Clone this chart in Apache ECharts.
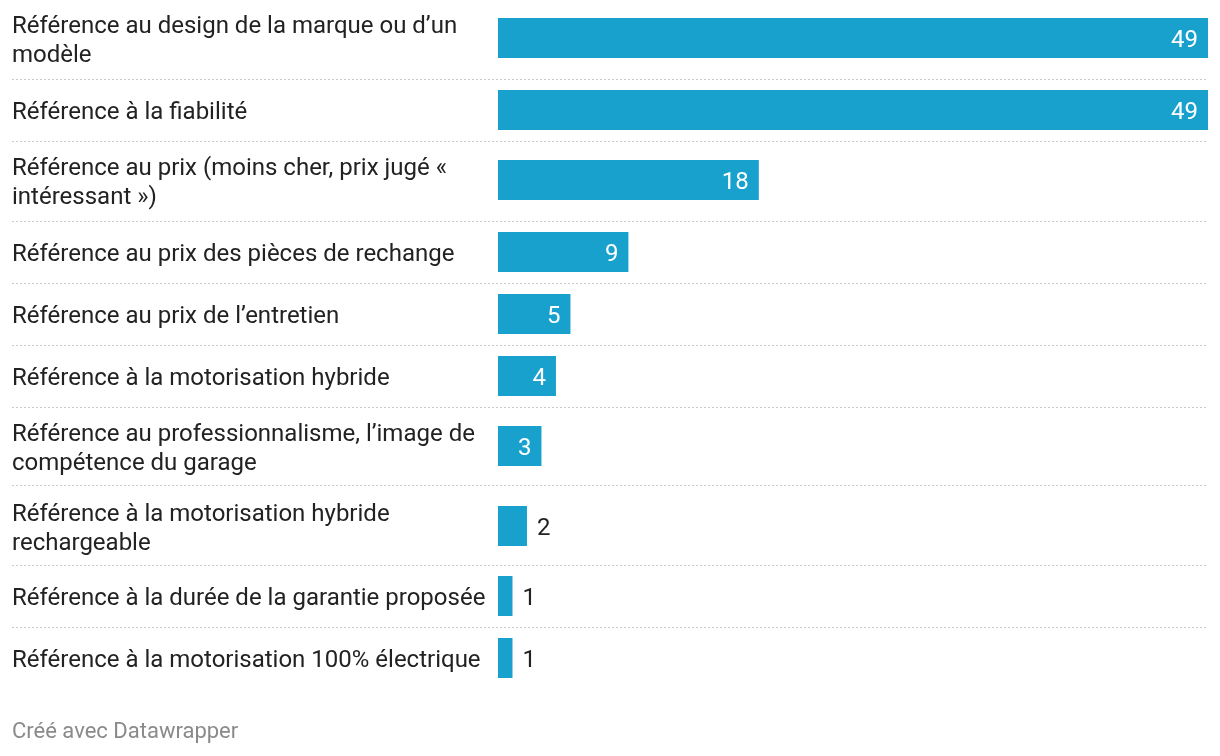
<!DOCTYPE html>
<html>
<head>
<meta charset="utf-8">
<script src="https://cdn.jsdelivr.net/npm/echarts@6/dist/echarts.min.js"></script>
<style>
html,body{margin:0;padding:0;background:#fff;}
#chart{width:1220px;height:756px;}
</style>
</head>
<body>
<div id="chart"></div>
<script>
// Data
const categories = [
  "Référence au design de la marque ou d’un\nmodèle",
  "Référence à la fiabilité",
  "Référence au prix (moins cher, prix jugé «\nintéressant »)",
  "Référence au prix des pièces de rechange",
  "Référence au prix de l’entretien",
  "Référence à la motorisation hybride",
  "Référence au professionnalisme, l’image de\ncompétence du garage",
  "Référence à la motorisation hybride\nrechargeable",
  "Référence à la durée de la garantie proposée",
  "Référence à la motorisation 100% électrique"
];
const values = [49, 49, 18, 9, 5, 4, 3, 2, 1, 1];
const footerText = "Créé avec Datawrapper";

// Layout (row geometry)
const barTops = [18, 90, 160, 232, 294, 356, 426, 506, 576, 638];
const separators = [79, 141, 221, 283, 345, 407, 485, 565, 627];
const BAR_H = 40;
const LEFT = 498, RIGHT = 12;
const FONT = 'Roboto';
const COLOR = '#18a1cd';

const grids = [], xAxes = [], yAxes = [], series = [];
categories.forEach((cat, i) => {
  grids.push({ left: LEFT, right: RIGHT, top: barTops[i], height: BAR_H, containLabel: false });
  xAxes.push({ type: 'value', gridIndex: i, min: 0, max: 49, show: false });
  yAxes.push({
    type: 'category', gridIndex: i, data: [cat],
    axisLine: { show: false }, axisTick: { show: false }, splitLine: { show: false },
    axisLabel: {
      align: 'left', margin: LEFT - 12,
      formatter: t => '{s| }\n' + t.split('\n').map(l => '{a|' + l + '}').join('\n'),
      rich: {
        s: { fontSize: 6, lineHeight: 6 },
        a: { fontFamily: FONT, fontSize: 24, lineHeight: 29, color: '#222' }
      }
    }
  });
  const v = values[i];
  const inside = v >= 3;
  series.push({
    type: 'bar', xAxisIndex: i, yAxisIndex: i,
    data: [v], barWidth: BAR_H, silent: true,
    itemStyle: { color: COLOR },
    label: {
      show: true,
      position: inside ? 'insideRight' : 'right',
      distance: 10, offset: [0, 3],
      color: inside ? '#ffffff' : '#222',
      fontFamily: FONT, fontSize: 24
    }
  });
});

const graphics = separators.map(y => ({
  type: 'line',
  shape: { x1: 12, y1: y + 0.5, x2: 1208, y2: y + 0.5 },
  style: { stroke: '#cccccc', lineWidth: 1, lineDash: [2, 2] },
  silent: true
}));

const chart = echarts.init(document.getElementById('chart'), null, { renderer: 'canvas' });
chart.setOption({
  animation: false,
  backgroundColor: '#fff',
  title: {
    text: footerText, left: 12, top: 721, padding: 0,
    textStyle: { fontFamily: FONT, fontSize: 22, fontWeight: 'normal', color: '#8a8a8a' }
  },
  grid: grids,
  xAxis: xAxes,
  yAxis: yAxes,
  series: series,
  graphic: graphics
});
</script>
</body>
</html>
